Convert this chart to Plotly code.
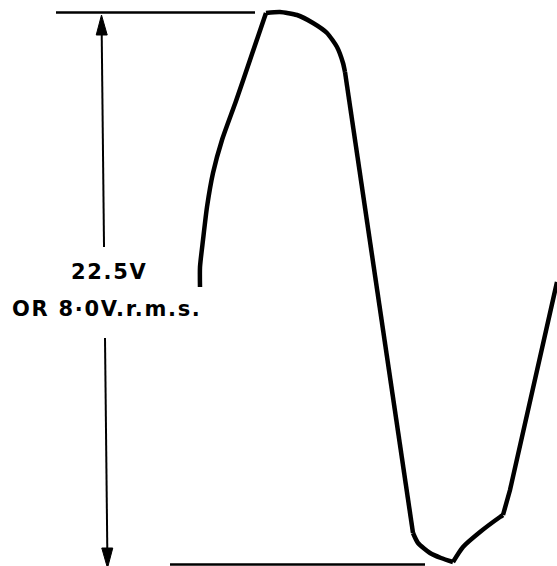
import plotly.graph_objects as go

# Waveform (time in arbitrary units; level in arbitrary units, 0 = negative peak)
rise_t = [200, 200, 203, 207, 213, 222, 236, 251, 266]
rise_v = [277, 297, 324, 357, 391, 424, 463, 507, 551]
crest_t = [266, 280, 297, 313, 327, 337, 343, 345]
crest_v = [551, 552, 549, 541, 531, 517, 501, 492]
fall_t = [345, 413]
fall_v = [492, 31]
trough_t = [413, 418, 430, 441, 453]
trough_v = [31, 21, 11, 6, 2]
hump_t = [453, 463, 480, 500, 503]
hump_v = [2, 17, 32, 47, 49]
climb_t = [503, 510, 557]
climb_v = [49, 74, 282]

# Reference levels and dimension marker
pos_peak_level = 551.5
neg_peak_level = -0.5
pos_line_t = [56, 255]
neg_line_t = [170, 425]
dim_top_t, dim_bot_t = 101.5, 107.5
dim_tip_top, dim_tip_bot = 549, -4
dim_gap = [317, 226]
head_len, head_half = 20, 5.5
label_main = "22.5V"
label_sub = "OR 8\u00b70V.r.m.s."

black = "black"
fig = go.Figure()


def t_at(v):
    # position of the (slightly slanted) hand-drawn dimension line at level v
    return dim_top_t + (dim_bot_t - dim_top_t) * (dim_tip_top - v) / (dim_tip_top - dim_tip_bot)


for t, v in [(rise_t, rise_v), (crest_t, crest_v), (trough_t, trough_v), (hump_t, hump_v)]:
    fig.add_trace(go.Scatter(x=t, y=v, mode="lines",
                             line=dict(color=black, width=4.5, shape="spline", smoothing=0.6),
                             hoverinfo="skip"))
for t, v in [(fall_t, fall_v), (climb_t, climb_v)]:
    fig.add_trace(go.Scatter(x=t, y=v, mode="lines", line=dict(color=black, width=4.5), hoverinfo="skip"))

# reference level lines
fig.add_trace(go.Scatter(x=pos_line_t, y=[pos_peak_level] * 2, mode="lines", line=dict(color=black, width=2.5)))
fig.add_trace(go.Scatter(x=neg_line_t, y=[neg_peak_level] * 2, mode="lines", line=dict(color=black, width=2.5)))

# dimension line (two parts around the label)
up_top = dim_tip_top - head_len
lo_bot = dim_tip_bot + head_len
fig.add_trace(go.Scatter(x=[t_at(up_top), t_at(dim_gap[0])], y=[up_top, dim_gap[0]], mode="lines",
                         line=dict(color=black, width=2)))
fig.add_trace(go.Scatter(x=[t_at(dim_gap[1]), t_at(lo_bot)], y=[dim_gap[1], lo_bot], mode="lines",
                         line=dict(color=black, width=2)))
# arrow heads
for tip, base in [(dim_tip_top, up_top), (dim_tip_bot, lo_bot)]:
    tb = t_at(base)
    fig.add_trace(go.Scatter(x=[tb - head_half, tb + head_half, t_at(tip), tb - head_half],
                             y=[base, base, tip, base], mode="lines", fill="toself",
                             fillcolor=black, line=dict(color=black, width=1)))

fig.add_annotation(x=109.5, y=292.5, text='<span style="letter-spacing:1.7px">' + label_main + "</span>",
                   showarrow=False, font=dict(family="DejaVu Sans", size=21, color=black, weight="bold"))
fig.add_annotation(x=106.5, y=255, text='<span style="letter-spacing:1.7px">' + label_sub + "</span>",
                   showarrow=False, font=dict(family="DejaVu Sans", size=21, color=black, weight="bold"))

fig.update_layout(width=557, height=566, margin=dict(l=0, r=0, t=0, b=0), showlegend=False,
                  plot_bgcolor="white", paper_bgcolor="white",
                  xaxis=dict(range=[0, 557], visible=False, fixedrange=True),
                  yaxis=dict(range=[-2, 564], visible=False, fixedrange=True))
fig.write_html("out.html", config={"displayModeBar": False},
               post_script="document.body.style.margin='0';document.body.style.overflow='hidden';")
